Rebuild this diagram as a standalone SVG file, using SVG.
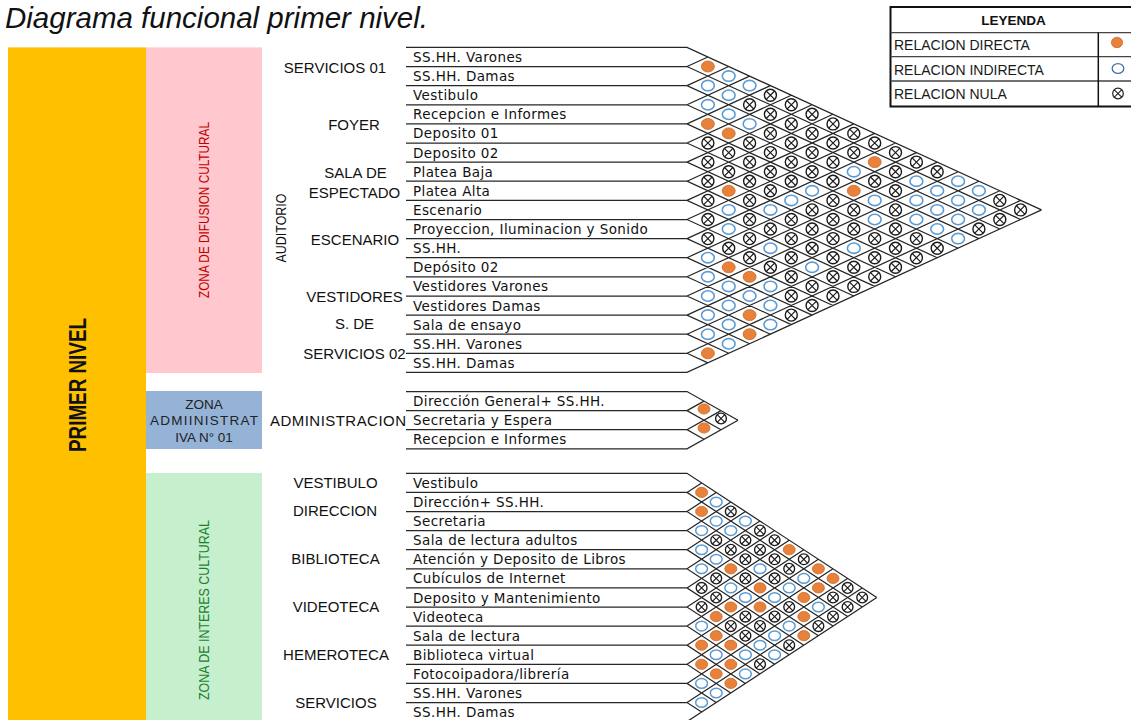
<svg xmlns="http://www.w3.org/2000/svg" xmlns:xlink="http://www.w3.org/1999/xlink" width="1131" height="720" viewBox="0 0 1131 720">
<style>
.row{font-family:"DejaVu Sans",sans-serif;font-size:13.5px;letter-spacing:0.4px;fill:#111}
.grp{font-family:"Liberation Sans",Arial,sans-serif;font-size:15px;fill:#111;text-anchor:middle}
.ln{fill:none;stroke:#262626;stroke-width:1.25}
.lg{font-family:"Liberation Sans",Arial,sans-serif;font-size:14px;fill:#1a1a1a}
</style>
<defs>
<g id="o"><ellipse rx="6.5" ry="5.5" fill="#E8823B" stroke="#C8692A" stroke-width="0.8"/></g>
<g id="b"><ellipse rx="6.4" ry="5.2" fill="#fff" stroke="#5B9BD5" stroke-width="1.6"/></g>
<g id="x"><circle r="6" fill="#fff" stroke="#1a1a1a" stroke-width="1.4"/><path d="M-4.2-4.2L4.2 4.2M-4.2 4.2L4.2-4.2" stroke="#1a1a1a" stroke-width="1.2"/></g>
<g id="o2"><ellipse rx="6" ry="5.1" fill="#E8823B" stroke="#C8692A" stroke-width="0.8"/></g>
<g id="b2"><ellipse rx="5.9" ry="4.8" fill="#fff" stroke="#5B9BD5" stroke-width="1.5"/></g>
<g id="x2"><circle r="5.4" fill="#fff" stroke="#1a1a1a" stroke-width="1.35"/><path d="M-3.8-3.8L3.8 3.8M-3.8 3.8L3.8-3.8" stroke="#1a1a1a" stroke-width="1.15"/></g>
</defs>
<rect width="1131" height="720" fill="#fff"/>
<g id="title"><text x="5" y="28" font-family="Liberation Sans, Arial, sans-serif" font-style="italic" font-size="29.5" fill="#111">Diagrama funcional primer nivel.</text></g>
<g id="primer-nivel"><rect x="8" y="47.4" width="138" height="672.6" fill="#FFC000"/><text transform="translate(85.5,385) rotate(-90)" text-anchor="middle" font-family="Liberation Sans, Arial, sans-serif" font-weight="bold" font-size="23" textLength="134" lengthAdjust="spacingAndGlyphs" fill="#111">PRIMER NIVEL</text></g>
<g id="zona-difusion"><rect x="146" y="47.4" width="116" height="325.6" fill="#FFC7CE"/><text transform="translate(208.5,210) rotate(-90)" text-anchor="middle" font-family="Liberation Sans, Arial, sans-serif" font-size="14" textLength="176" lengthAdjust="spacingAndGlyphs" fill="#C00000">ZONA DE DIFUSION CULTURAL</text></g>
<g id="zona-admin"><rect x="146" y="391" width="116" height="58" fill="#95B3D7"/><g font-family="Liberation Sans, Arial, sans-serif" font-size="13.5" fill="#222" text-anchor="middle"><text x="204" y="408.5">ZONA</text><text x="204" y="425" textLength="108">ADMIINISTRAT</text><text x="204" y="441.5">IVA N° 01</text></g></g>
<g id="zona-interes"><rect x="146" y="473" width="116" height="247" fill="#C6EFCE"/><text transform="translate(208.5,610) rotate(-90)" text-anchor="middle" font-family="Liberation Sans, Arial, sans-serif" font-size="14" textLength="180" lengthAdjust="spacingAndGlyphs" fill="#1B7F2F">ZONA DE INTERES CULTURAL</text></g>
<g id="auditorio"><text transform="translate(285.5,228) rotate(-90)" text-anchor="middle" font-family="Liberation Sans, Arial, sans-serif" font-size="14" textLength="69" lengthAdjust="spacingAndGlyphs" fill="#111">AUDITORIO</text></g>
<g id="group-labels">
<text class="grp" x="335" y="72.5">SERVICIOS 01</text>
<text class="grp" x="354" y="130">FOYER</text>
<text class="grp" x="355.5" y="177.5">SALA DE</text>
<text class="grp" x="354.5" y="197.5">ESPECTADO</text>
<text class="grp" x="355" y="244.5">ESCENARIO</text>
<text class="grp" x="354.5" y="301.5">VESTIDORES</text>
<text class="grp" x="354.5" y="329">S. DE</text>
<text class="grp" x="354.5" y="359">SERVICIOS 02</text>
<text class="grp" x="270" y="425.5" style="text-anchor:start" textLength="136">ADMINISTRACION</text>
<text class="grp" x="335.5" y="487.5">VESTIBULO</text>
<text class="grp" x="335" y="516">DIRECCION</text>
<text class="grp" x="335.5" y="563.5">BIBLIOTECA</text>
<text class="grp" x="336" y="611.5">VIDEOTECA</text>
<text class="grp" x="336" y="659.5">HEMEROTECA</text>
<text class="grp" x="336" y="707.5">SERVICIOS</text>
</g>
<g id="connectors">
<path class="ln" d="M406 47.4H687L1041.5 209.9M406 66.5H687L1020.6 219.5M687 66.5L707.9 57M406 85.6H687L999.8 229M687 85.6L728.7 66.5M406 104.8H687L978.9 238.6M687 104.8L749.6 76.1M406 123.9H687L958.1 248.2M687 123.9L770.4 85.6M406 143H687L937.2 257.7M687 143L791.3 95.2M406 162.1H687L916.4 267.3M687 162.1L812.1 104.8M406 181.2H687L895.5 276.8M687 181.2L833 114.3M406 200.4H687L874.7 286.4M687 200.4L853.8 123.9M406 219.5H687L853.8 296M687 219.5L874.7 133.4M406 238.6H687L833 305.5M687 238.6L895.5 143M406 257.7H687L812.1 315.1M687 257.7L916.4 152.6M406 276.8H687L791.3 324.6M687 276.8L937.2 162.1M406 296H687L770.4 334.2M687 296L958.1 171.7M406 315.1H687L749.6 343.8M687 315.1L978.9 181.2M406 334.2H687L728.7 353.3M687 334.2L999.8 190.8M406 353.3H687L707.9 362.9M687 353.3L1020.6 200.4M406 372.4H687L1041.5 209.9"/>
<path class="ln" d="M406 391.5H687L738 420.2M406 410.6H687L721 429.7M687 410.6L704 401.1M406 429.7H687L704 439.3M687 429.7L721 410.6M406 448.8H687L738 420.2"/>
<path class="ln" d="M406 473.3H687L876.8 597.5M406 492.4H687L862.2 607M687 492.4L701.6 482.9M406 511.5H687L847.6 616.6M687 511.5L716.2 492.4M406 530.6H687L833 626.1M687 530.6L730.8 502M406 549.7H687L818.4 635.7M687 549.7L745.4 511.5M406 568.8H687L803.8 645.2M687 568.8L760 521.1M406 587.9H687L789.2 654.8M687 587.9L774.6 530.6M406 607H687L774.6 664.3M687 607L789.2 540.2M406 626.1H687L760 673.9M687 626.1L803.8 549.7M406 645.2H687L745.4 683.4M687 645.2L818.4 559.3M406 664.3H687L730.8 693M687 664.3L833 568.8M406 683.4H687L716.2 702.5M687 683.4L847.6 578.4M406 702.5H687L701.6 712.1M687 702.5L862.2 587.9M406 721.6H687L876.8 597.5"/>
</g>
<g id="rows-auditorio">
<text class="row" x="413" y="62">SS.HH. Varones</text>
<text class="row" x="413" y="81.1">SS.HH. Damas</text>
<text class="row" x="413" y="100.2">Vestibulo</text>
<text class="row" x="413" y="119.3">Recepcion e Informes</text>
<text class="row" x="413" y="138.4">Deposito 01</text>
<text class="row" x="413" y="157.6">Deposito 02</text>
<text class="row" x="413" y="176.7">Platea Baja</text>
<text class="row" x="413" y="195.8">Platea Alta</text>
<text class="row" x="413" y="214.9">Escenario</text>
<text class="row" x="413" y="234">Proyeccion, Iluminacion y Sonido</text>
<text class="row" x="413" y="253.2">SS.HH.</text>
<text class="row" x="413" y="272.3">Depósito 02</text>
<text class="row" x="413" y="291.4">Vestidores Varones</text>
<text class="row" x="413" y="310.5">Vestidores Damas</text>
<text class="row" x="413" y="329.6">Sala de ensayo</text>
<text class="row" x="413" y="348.8">SS.HH. Varones</text>
<text class="row" x="413" y="367.9">SS.HH. Damas</text>
</g>
<g id="rows-admin">
<text class="row" x="413" y="406">Dirección General+ SS.HH.</text>
<text class="row" x="413" y="425.2">Secretaria y Espera</text>
<text class="row" x="413" y="444.3">Recepcion e Informes</text>
</g>
<g id="rows-interes">
<text class="row" x="413" y="487.9">Vestibulo</text>
<text class="row" x="413" y="507">Dirección+ SS.HH.</text>
<text class="row" x="413" y="526.1">Secretaria</text>
<text class="row" x="413" y="545.2">Sala de lectura adultos</text>
<text class="row" x="413" y="564.3">Atención y Deposito de Libros</text>
<text class="row" x="413" y="583.4">Cubículos de Internet</text>
<text class="row" x="413" y="602.5">Deposito y Mantenimiento</text>
<text class="row" x="413" y="621.6">Videoteca</text>
<text class="row" x="413" y="640.7">Sala de lectura</text>
<text class="row" x="413" y="659.8">Biblioteca virtual</text>
<text class="row" x="413" y="678.9">Fotocoipadora/librería</text>
<text class="row" x="413" y="698">SS.HH. Varones</text>
<text class="row" x="413" y="717.1">SS.HH. Damas</text>
</g>
<g id="matrix-auditorio">
<use href="#o" x="707.9" y="66.5"/>
<use href="#b" x="728.7" y="76.1"/>
<use href="#b" x="707.9" y="85.6"/><use href="#b" x="749.6" y="85.6"/>
<use href="#b" x="728.7" y="95.2"/><use href="#x" x="770.4" y="95.2"/>
<use href="#b" x="707.9" y="104.8"/><use href="#x" x="749.6" y="104.8"/><use href="#x" x="791.3" y="104.8"/>
<use href="#b" x="728.7" y="114.3"/><use href="#x" x="770.4" y="114.3"/><use href="#x" x="812.1" y="114.3"/>
<use href="#o" x="707.9" y="123.9"/><use href="#b" x="749.6" y="123.9"/><use href="#x" x="791.3" y="123.9"/><use href="#x" x="833" y="123.9"/>
<use href="#o" x="728.7" y="133.4"/><use href="#x" x="770.4" y="133.4"/><use href="#x" x="812.1" y="133.4"/><use href="#x" x="853.8" y="133.4"/>
<use href="#x" x="707.9" y="143"/><use href="#x" x="749.6" y="143"/><use href="#x" x="791.3" y="143"/><use href="#x" x="833" y="143"/><use href="#x" x="874.7" y="143"/>
<use href="#x" x="728.7" y="152.6"/><use href="#x" x="770.4" y="152.6"/><use href="#x" x="812.1" y="152.6"/><use href="#x" x="853.8" y="152.6"/><use href="#x" x="895.5" y="152.6"/>
<use href="#x" x="707.9" y="162.1"/><use href="#x" x="749.6" y="162.1"/><use href="#x" x="791.3" y="162.1"/><use href="#x" x="833" y="162.1"/><use href="#o" x="874.7" y="162.1"/><use href="#x" x="916.4" y="162.1"/>
<use href="#x" x="728.7" y="171.7"/><use href="#x" x="770.4" y="171.7"/><use href="#x" x="812.1" y="171.7"/><use href="#b" x="853.8" y="171.7"/><use href="#x" x="895.5" y="171.7"/><use href="#x" x="937.2" y="171.7"/>
<use href="#x" x="707.9" y="181.2"/><use href="#x" x="749.6" y="181.2"/><use href="#x" x="791.3" y="181.2"/><use href="#x" x="833" y="181.2"/><use href="#x" x="874.7" y="181.2"/><use href="#b" x="916.4" y="181.2"/><use href="#b" x="958.1" y="181.2"/>
<use href="#o" x="728.7" y="190.8"/><use href="#x" x="770.4" y="190.8"/><use href="#b" x="812.1" y="190.8"/><use href="#o" x="853.8" y="190.8"/><use href="#x" x="895.5" y="190.8"/><use href="#b" x="937.2" y="190.8"/><use href="#b" x="978.9" y="190.8"/>
<use href="#x" x="707.9" y="200.4"/><use href="#x" x="749.6" y="200.4"/><use href="#b" x="791.3" y="200.4"/><use href="#x" x="833" y="200.4"/><use href="#b" x="874.7" y="200.4"/><use href="#b" x="916.4" y="200.4"/><use href="#b" x="958.1" y="200.4"/><use href="#x" x="999.8" y="200.4"/>
<use href="#b" x="728.7" y="209.9"/><use href="#b" x="770.4" y="209.9"/><use href="#x" x="812.1" y="209.9"/><use href="#x" x="853.8" y="209.9"/><use href="#x" x="895.5" y="209.9"/><use href="#b" x="937.2" y="209.9"/><use href="#b" x="978.9" y="209.9"/><use href="#x" x="1020.6" y="209.9"/>
<use href="#x" x="707.9" y="219.5"/><use href="#x" x="749.6" y="219.5"/><use href="#x" x="791.3" y="219.5"/><use href="#x" x="833" y="219.5"/><use href="#b" x="874.7" y="219.5"/><use href="#b" x="916.4" y="219.5"/><use href="#b" x="958.1" y="219.5"/><use href="#x" x="999.8" y="219.5"/>
<use href="#b" x="728.7" y="229"/><use href="#x" x="770.4" y="229"/><use href="#x" x="812.1" y="229"/><use href="#x" x="853.8" y="229"/><use href="#x" x="895.5" y="229"/><use href="#b" x="937.2" y="229"/><use href="#x" x="978.9" y="229"/>
<use href="#x" x="707.9" y="238.6"/><use href="#x" x="749.6" y="238.6"/><use href="#x" x="791.3" y="238.6"/><use href="#x" x="833" y="238.6"/><use href="#x" x="874.7" y="238.6"/><use href="#x" x="916.4" y="238.6"/><use href="#b" x="958.1" y="238.6"/>
<use href="#x" x="728.7" y="248.2"/><use href="#b" x="770.4" y="248.2"/><use href="#x" x="812.1" y="248.2"/><use href="#b" x="853.8" y="248.2"/><use href="#x" x="895.5" y="248.2"/><use href="#x" x="937.2" y="248.2"/>
<use href="#b" x="707.9" y="257.7"/><use href="#x" x="749.6" y="257.7"/><use href="#x" x="791.3" y="257.7"/><use href="#x" x="833" y="257.7"/><use href="#x" x="874.7" y="257.7"/><use href="#x" x="916.4" y="257.7"/>
<use href="#o" x="728.7" y="267.3"/><use href="#x" x="770.4" y="267.3"/><use href="#b" x="812.1" y="267.3"/><use href="#x" x="853.8" y="267.3"/><use href="#x" x="895.5" y="267.3"/>
<use href="#b" x="707.9" y="276.8"/><use href="#o" x="749.6" y="276.8"/><use href="#x" x="791.3" y="276.8"/><use href="#x" x="833" y="276.8"/><use href="#x" x="874.7" y="276.8"/>
<use href="#b" x="728.7" y="286.4"/><use href="#b" x="770.4" y="286.4"/><use href="#x" x="812.1" y="286.4"/><use href="#x" x="853.8" y="286.4"/>
<use href="#b" x="707.9" y="296"/><use href="#b" x="749.6" y="296"/><use href="#x" x="791.3" y="296"/><use href="#x" x="833" y="296"/>
<use href="#b" x="728.7" y="305.5"/><use href="#b" x="770.4" y="305.5"/><use href="#x" x="812.1" y="305.5"/>
<use href="#b" x="707.9" y="315.1"/><use href="#o" x="749.6" y="315.1"/><use href="#x" x="791.3" y="315.1"/>
<use href="#b" x="728.7" y="324.6"/><use href="#b" x="770.4" y="324.6"/>
<use href="#b" x="707.9" y="334.2"/><use href="#o" x="749.6" y="334.2"/>
<use href="#b" x="728.7" y="343.8"/>
<use href="#o" x="707.9" y="353.3"/>
</g>
<g id="matrix-admin">
<use href="#o2" x="704" y="409"/><use href="#x2" x="721" y="418.5"/><use href="#o2" x="704" y="428"/>
</g>
<g id="matrix-interes">
<use href="#o2" x="701.6" y="492.4"/>
<use href="#b2" x="716.2" y="502"/>
<use href="#o2" x="701.6" y="511.5"/><use href="#x2" x="730.8" y="511.5"/>
<use href="#b2" x="716.2" y="521.1"/><use href="#b2" x="745.4" y="521.1"/>
<use href="#b2" x="701.6" y="530.6"/><use href="#b2" x="730.8" y="530.6"/><use href="#x2" x="760" y="530.6"/>
<use href="#x2" x="716.2" y="540.2"/><use href="#x2" x="745.4" y="540.2"/><use href="#x2" x="774.6" y="540.2"/>
<use href="#b2" x="701.6" y="549.7"/><use href="#x2" x="730.8" y="549.7"/><use href="#x2" x="760" y="549.7"/><use href="#o2" x="789.2" y="549.7"/>
<use href="#b2" x="716.2" y="559.3"/><use href="#x2" x="745.4" y="559.3"/><use href="#x2" x="774.6" y="559.3"/><use href="#x2" x="803.8" y="559.3"/>
<use href="#b2" x="701.6" y="568.8"/><use href="#o2" x="730.8" y="568.8"/><use href="#b2" x="760" y="568.8"/><use href="#x2" x="789.2" y="568.8"/><use href="#o2" x="818.4" y="568.8"/>
<use href="#x2" x="716.2" y="578.4"/><use href="#x2" x="745.4" y="578.4"/><use href="#x2" x="774.6" y="578.4"/><use href="#b2" x="803.8" y="578.4"/><use href="#o2" x="833" y="578.4"/>
<use href="#x2" x="701.6" y="587.9"/><use href="#b2" x="730.8" y="587.9"/><use href="#o2" x="760" y="587.9"/><use href="#b2" x="789.2" y="587.9"/><use href="#o2" x="818.4" y="587.9"/><use href="#x2" x="847.6" y="587.9"/>
<use href="#x2" x="716.2" y="597.5"/><use href="#b2" x="745.4" y="597.5"/><use href="#b2" x="774.6" y="597.5"/><use href="#o2" x="803.8" y="597.5"/><use href="#x2" x="833" y="597.5"/><use href="#x2" x="862.2" y="597.5"/>
<use href="#x2" x="701.6" y="607"/><use href="#o2" x="730.8" y="607"/><use href="#o2" x="760" y="607"/><use href="#x2" x="789.2" y="607"/><use href="#b2" x="818.4" y="607"/><use href="#x2" x="847.6" y="607"/>
<use href="#o2" x="716.2" y="616.6"/><use href="#x2" x="745.4" y="616.6"/><use href="#x2" x="774.6" y="616.6"/><use href="#o2" x="803.8" y="616.6"/><use href="#x2" x="833" y="616.6"/>
<use href="#b2" x="701.6" y="626.1"/><use href="#x2" x="730.8" y="626.1"/><use href="#x2" x="760" y="626.1"/><use href="#b2" x="789.2" y="626.1"/><use href="#x2" x="818.4" y="626.1"/>
<use href="#o2" x="716.2" y="635.7"/><use href="#x2" x="745.4" y="635.7"/><use href="#b2" x="774.6" y="635.7"/><use href="#o2" x="803.8" y="635.7"/>
<use href="#o2" x="701.6" y="645.2"/><use href="#o2" x="730.8" y="645.2"/><use href="#b2" x="760" y="645.2"/><use href="#x2" x="789.2" y="645.2"/>
<use href="#b2" x="716.2" y="654.8"/><use href="#b2" x="745.4" y="654.8"/><use href="#b2" x="774.6" y="654.8"/>
<use href="#o2" x="701.6" y="664.3"/><use href="#o2" x="730.8" y="664.3"/><use href="#x2" x="760" y="664.3"/>
<use href="#o2" x="716.2" y="673.9"/><use href="#b2" x="745.4" y="673.9"/>
<use href="#b2" x="701.6" y="683.4"/><use href="#o2" x="730.8" y="683.4"/>
<use href="#b2" x="716.2" y="693"/>
<use href="#b2" x="701.6" y="702.5"/>
</g>
<g id="legend">
<rect x="890.5" y="7" width="250" height="99.5" fill="#fff" stroke="#111" stroke-width="2"/>
<path d="M890.5 32.7H1131M890.5 56.7H1131M890.5 81H1131" stroke="#444" stroke-width="1.3" fill="none"/>
<path d="M1098.3 32.7V106.5" stroke="#111" stroke-width="1.5"/>
<text x="1013.5" y="25" text-anchor="middle" font-family="Liberation Sans, Arial, sans-serif" font-weight="bold" font-size="13.5" fill="#111">LEYENDA</text>
<text class="lg" x="894" y="50">RELACION DIRECTA</text>
<text class="lg" x="894" y="74.5">RELACION INDIRECTA</text>
<text class="lg" x="894" y="99">RELACION NULA</text>
<ellipse cx="1117" cy="42.5" rx="5.6" ry="5.2" fill="#E8823B" stroke="#C8692A" stroke-width="0.8"/>
<ellipse cx="1118" cy="68.5" rx="5.8" ry="4.9" fill="#fff" stroke="#3F6FA8" stroke-width="1.3"/>
<circle cx="1118" cy="93.5" r="5.3" fill="#fff" stroke="#222" stroke-width="1.2"/>
<path d="M1114.3 89.8L1121.7 97.2M1114.3 97.2L1121.7 89.8" stroke="#222" stroke-width="1.1"/>
</g>
</svg>
